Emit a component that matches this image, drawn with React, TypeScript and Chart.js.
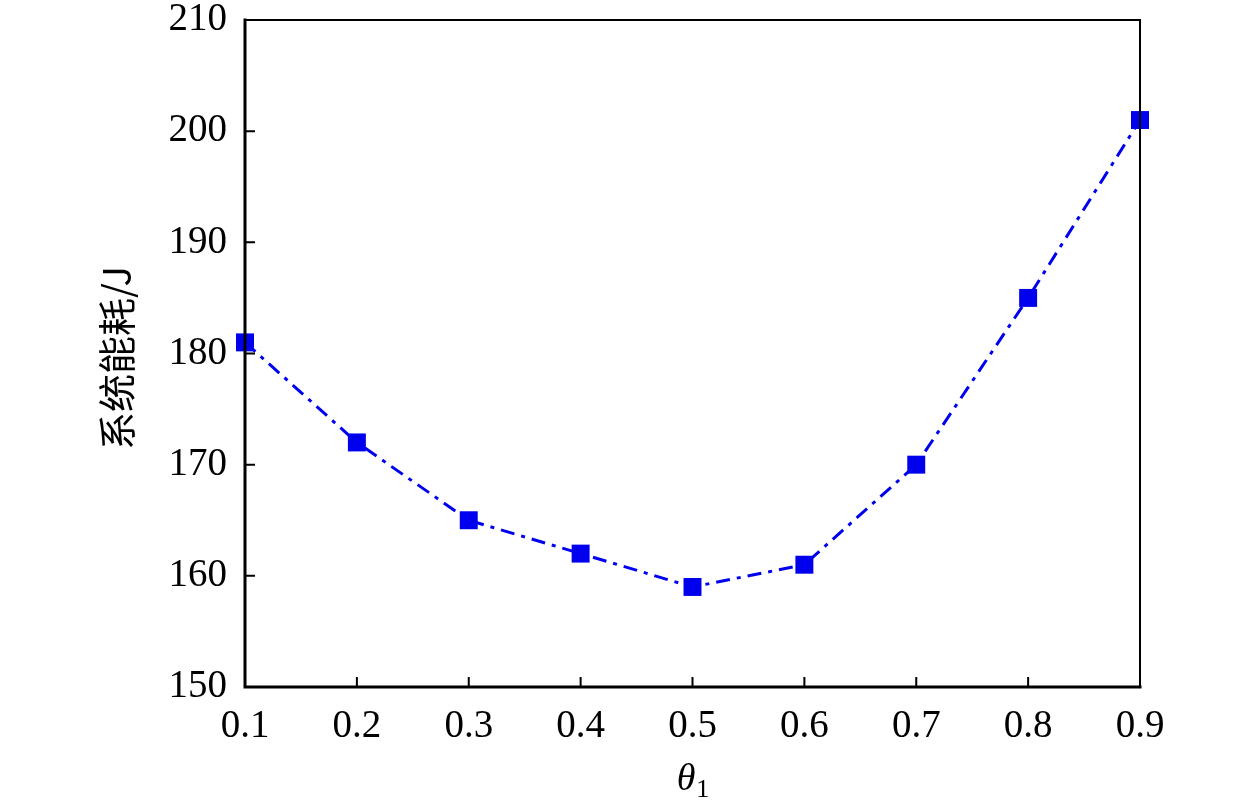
import React, { useEffect, useRef } from "react";
import { Chart, registerables } from "chart.js";

Chart.register(...registerables);

const thetaValues = ["0.1", "0.2", "0.3", "0.4", "0.5", "0.6", "0.7", "0.8", "0.9"];
const energyValues = [181, 172, 165, 162, 159, 161, 170, 185, 201];
const yTicks = [150, 160, 170, 180, 190, 200, 210];
const yTitle = "系统能耗/J";
const xTitleMain = "θ";
const xTitleSub = "1";

const frame = {
  id: "frame",
  afterDraw(chart: any) {
    const { ctx, chartArea, scales } = chart;
    const { left, right, top, bottom } = chartArea;
    ctx.save();
    ctx.strokeStyle = "#000";
    ctx.lineCap = "square";
    ctx.lineWidth = 2;
    ctx.beginPath();
    ctx.moveTo(left, top);
    ctx.lineTo(right, top);
    ctx.lineTo(right, bottom);
    ctx.stroke();
    ctx.lineWidth = 3;
    ctx.beginPath();
    ctx.moveTo(left, top);
    ctx.lineTo(left, bottom);
    ctx.lineTo(right, bottom);
    ctx.stroke();
    ctx.lineCap = "butt";
    ctx.lineWidth = 2;
    ctx.beginPath();
    yTicks.forEach((v) => {
      const y = scales.y.getPixelForValue(v);
      ctx.moveTo(left, y);
      ctx.lineTo(left + 10, y);
    });
    thetaValues.forEach((_, i) => {
      const x = scales.x.getPixelForValue(i);
      ctx.moveTo(x, bottom);
      ctx.lineTo(x, bottom - 10);
    });
    ctx.stroke();
    ctx.fillStyle = "#000";
    ctx.textBaseline = "alphabetic";
    ctx.textAlign = "left";
    ctx.font = "italic 38px 'Liberation Serif', serif";
    const cx = (left + right) / 2;
    const wMain = ctx.measureText(xTitleMain).width;
    ctx.font = "26px 'Liberation Serif', serif";
    const wSub = ctx.measureText(xTitleSub).width;
    const startX = cx - (wMain + wSub) / 2;
    ctx.font = "italic 38px 'Liberation Serif', serif";
    ctx.fillText(xTitleMain, startX, 790);
    ctx.font = "26px 'Liberation Serif', serif";
    ctx.fillText(xTitleSub, startX + wMain + 1, 797);
    ctx.translate(117, 358);
    ctx.rotate(-Math.PI / 2);
    ctx.textAlign = "center";
    ctx.textBaseline = "middle";
    ctx.font = "38px 'Noto Sans CJK SC', sans-serif";
    ctx.fillText(yTitle, 0, 0);
    ctx.restore();
  },
};

export default function App() {
  const ref = useRef<HTMLCanvasElement>(null);
  useEffect(() => {
    document.body.style.margin = "0";
    const chart = new Chart(ref.current!, {
      type: "line",
      data: {
        labels: thetaValues,
        datasets: [
          {
            data: energyValues,
            borderColor: "#0000ee",
            backgroundColor: "#0000ee",
            borderWidth: 3,
            borderDash: [14, 7, 4, 7],
            pointStyle: "rect",
            pointRadius: 12.7,
            pointBorderWidth: 0,
            fill: false,
            tension: 0,
            clip: false,
          },
        ],
      },
      options: {
        responsive: false,
        animation: false,
        events: [],
        layout: { padding: { left: 0, top: 20, right: 120, bottom: 0 } },
        plugins: { legend: { display: false }, tooltip: { enabled: false } },
        scales: {
          x: {
            type: "category",
            offset: false,
            grid: { display: false, drawTicks: false },
            border: { display: false },
            ticks: {
              color: "#000",
              padding: 16,
              maxRotation: 0,
              autoSkip: false,
              font: { family: "'Liberation Serif', serif", size: 39 },
            },
            afterFit(scale: any) {
              scale.height = 122;
              scale.paddingLeft = 0;
              scale.paddingRight = 0;
            },
          },
          y: {
            min: 150,
            max: 210,
            grid: { display: false, drawTicks: false },
            border: { display: false },
            afterBuildTicks(scale: any) {
              scale.ticks = yTicks.map((v) => ({ value: v }));
            },
            ticks: {
              color: "#000",
              padding: 18,
              font: { family: "'Liberation Serif', serif", size: 39 },
            },
            afterFit(scale: any) {
              scale.width = 245;
              scale.paddingTop = 0;
              scale.paddingBottom = 0;
            },
          },
        },
      },
      plugins: [frame],
    });
    return () => chart.destroy();
  }, []);
  return (
    <div style={{ position: "absolute", left: 0, top: 0, width: 1260, height: 809 }}>
      <canvas ref={ref} width={1260} height={809} style={{ width: 1260, height: 809 }} />
    </div>
  );
}
